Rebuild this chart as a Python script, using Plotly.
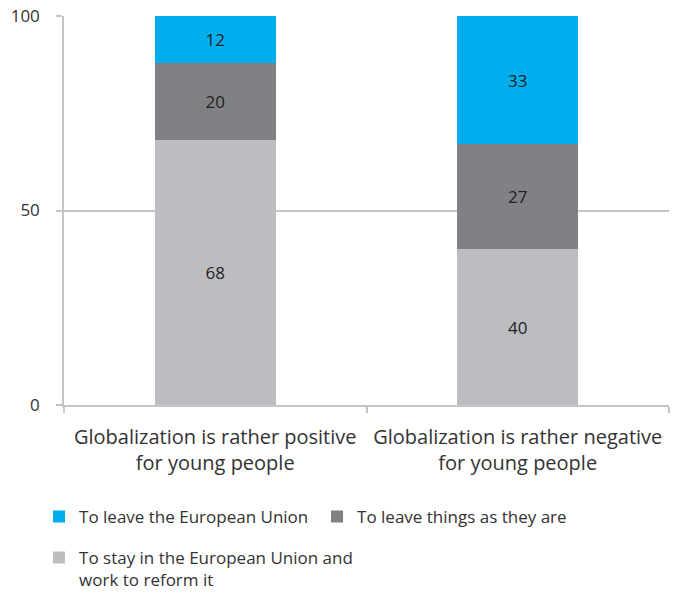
import plotly.graph_objects as go

categories = ["Globalization is rather positive<br>for young people",
              "Globalization is rather negative<br>for young people"]
stay_reform = [68, 40]
leave_as_is = [20, 27]
leave_eu = [12, 33]
y_ticks = [0, 50, 100]

series = [
    ("To stay in the European Union and<br>work to reform it", stay_reform, "#bcbdc1", "legend2"),
    ("To leave things as they are", leave_as_is, "#808184", "legend"),
    ("To leave the European Union", leave_eu, "#00aeef", "legend"),
]

FONT = "Open Sans"
fig = go.Figure()
for name, vals, col, lg in series:
    fig.add_trace(go.Bar(
        x=categories, y=vals, name=name, marker=dict(color=col, line=dict(width=0)),
        text=[str(v) for v in vals], textposition="inside", insidetextanchor="middle",
        textangle=0, textfont=dict(family=FONT, size=17, color="#222222"),
        width=0.4, legend=lg, hoverinfo="skip",
    ))

legend_common = dict(orientation="h", xanchor="left", yanchor="top", valign="top",
                     xref="container", yref="container",
                     font=dict(family=FONT, size=17, color="#333333"),
                     itemclick=False, traceorder="reversed",
                     bgcolor="rgba(0,0,0,0)")

fig.update_layout(
    barmode="stack",
    width=673, height=596,
    margin=dict(l=64, r=4, t=16, b=191),
    plot_bgcolor="white", paper_bgcolor="white",
    font=dict(family=FONT, size=18, color="#333333"),
    showlegend=True,
    legend=dict(x=0.058, y=0.163, entrywidth=233, entrywidthmode="pixels", **legend_common),
    legend2=dict(x=0.058, y=0.094, **legend_common),
    yaxis=dict(range=[0, 100], tickvals=y_ticks, showgrid=True, gridcolor="#c4c4c8",
               gridwidth=1.5, showline=True, linecolor="#c4c4c8", linewidth=1.5,
               ticks="outside", ticklen=6, tickcolor="#c4c4c8", tickwidth=1.5,
               tickfont=dict(family=FONT, size=17, color="#333333"), ticklabelstandoff=13,
               ticklabeloverflow="allow", zeroline=False, automargin=False),
    xaxis=dict(type="category", showline=True, linecolor="#c4c4c8", linewidth=1.5,
               ticks="outside", ticklen=6, tickcolor="#c4c4c8", tickwidth=1.5,
               tickson="boundaries", tickfont=dict(family=FONT, size=20, color="#333333"),
               ticklabelstandoff=13, ticklabeloverflow="allow", showgrid=False,
               automargin=False),
)

fig.write_html("out.html", config={"displayModeBar": False},
               post_script="document.body.style.margin='0';")
